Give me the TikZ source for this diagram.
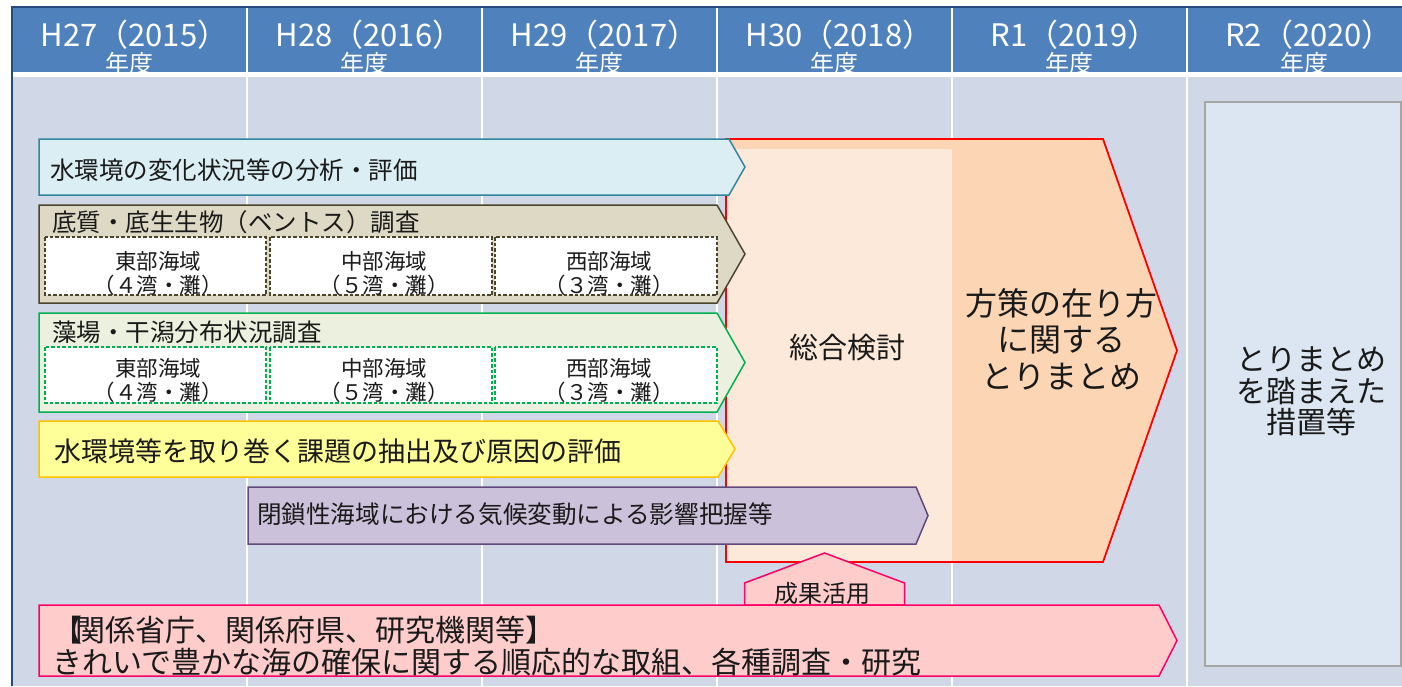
\documentclass[tikz,border=0pt]{standalone}
\usepackage{fontspec}
\setmainfont{Noto Sans CJK JP}
\definecolor{hdrblue}{HTML}{4F81BD}
\definecolor{framedark}{HTML}{254A7E}
\definecolor{bodybg}{HTML}{D0D8E8}
\definecolor{abluefill}{HTML}{DAEEF3}
\definecolor{abluedraw}{HTML}{31859C}
\definecolor{begfill}{HTML}{DDD9C4}
\definecolor{begdraw}{HTML}{4A452A}
\definecolor{grnfill}{HTML}{EBF1DE}
\definecolor{grndraw}{HTML}{00B050}
\definecolor{yelfill}{HTML}{FFFF99}
\definecolor{yeldraw}{HTML}{FFC000}
\definecolor{purfill}{HTML}{CCC1DA}
\definecolor{purdraw}{HTML}{604A7B}
\definecolor{pinkfill}{HTML}{FFCCCC}
\definecolor{pinkdraw}{HTML}{FF0066}
\definecolor{peach}{HTML}{FCD5B5}
\definecolor{peachlight}{HTML}{FDE9D9}
\definecolor{rbox}{HTML}{DCE6F2}
\definecolor{rboxdraw}{HTML}{A6A6A6}
\definecolor{ink}{HTML}{1A1A1A}
\newcommand\fsz[2]{\fontsize{#1pt}{#2pt}\selectfont}
\begin{document}
\begin{tikzpicture}[x=1pt,y=-1pt,
  lbl/.style={inner sep=0pt,outer sep=0pt,text=ink},
  hdrtxt/.style={inner sep=0pt,outer sep=0pt,text=white,anchor=base},
  arrowbox/.style={line width=1.5pt,line join=miter},
  subbox/.style={fill=white,line width=1.5pt,dash pattern=on 3.5pt off 2pt},
  colline/.style={draw=white,line width=2.2pt}]
\useasboundingbox (0,0) rectangle (1402,686);
\fill[white] (0,0) rectangle (1402,686);
% body and header
\fill[bodybg] (13,77) rectangle (1402,686);
\fill[hdrblue] (13,8) rectangle (1402,72);
% header texts
\foreach \cx/\lab [count=\i] in {129.5/H27（2015）,364.5/H28（2016）,599.5/H29（2017）,834.5/H30（2018）,1069.5/R1（2019）,1304/R2（2020）}{
  \node[hdrtxt,font=\fsz{31}{33}] (hy\i) at (\cx+5,46) {\lab};
  \node[hdrtxt,font=\fsz{24}{26}] (hn\i) at (\cx,72) {年度};
}
\fill[white] (13,72) rectangle (1402,77);
% column lines
\foreach \x in {247,482,717,952,1187}{\draw[colline] (\x,8) -- (\x,686);}
% frame
\draw[framedark,line width=2pt] (12,686) -- (12,7) -- (1402,7);
% right box
\draw[rboxdraw,fill=rbox,line width=1.5pt] (1205,102) rectangle (1401,666);
% big red pentagon
\fill[peach] (726,139) -- (1103,139) -- (1177,350.5) -- (1103,562) -- (726,562) -- cycle;
\fill[peachlight] (727,149) rectangle (952,561);
\draw[red,line width=1.8pt,line join=miter] (726,139) -- (1103,139) -- (1177,350.5) -- (1103,562) -- (726,562) -- cycle;
% arrow 1
\draw[arrowbox,draw=abluedraw,fill=abluefill] (39,139) -- (729,139) -- (745,167) -- (729,195) -- (39,195) -- cycle;
% arrow 2
\draw[arrowbox,draw=begdraw,fill=begfill] (39,205) -- (717,205) -- (745,254) -- (717,303) -- (39,303) -- cycle;
\draw[subbox,draw=begdraw] (45,237) rectangle (266,295);
\draw[subbox,draw=begdraw] (270,237) rectangle (492,295);
\draw[subbox,draw=begdraw] (495,237) rectangle (717,295);
% arrow 3
\draw[arrowbox,draw=grndraw,fill=grnfill] (39,313) -- (717,313) -- (745,362.5) -- (717,412) -- (39,412) -- cycle;
\draw[subbox,draw=grndraw] (45,347) rectangle (266,403);
\draw[subbox,draw=grndraw] (270,347) rectangle (492,403);
\draw[subbox,draw=grndraw] (495,347) rectangle (717,403);
% arrow 4
\draw[arrowbox,draw=yeldraw,fill=yelfill] (39,421) -- (718,421) -- (735,449) -- (718,477) -- (39,477) -- cycle;
% arrow 5
\draw[arrowbox,draw=purdraw,fill=purfill] (248,487) -- (916,487) -- (928,515.5) -- (916,544) -- (248,544) -- cycle;
% seika katsuyo pentagon
\draw[arrowbox,draw=pinkdraw,fill=pinkfill] (744.5,605) -- (744.5,583) -- (824.5,553) -- (904.5,583) -- (904.5,605) -- cycle;
% pink bottom arrow
\draw[arrowbox,draw=pinkdraw,fill=pinkfill] (39,605) -- (1159,605) -- (1177,640.5) -- (1159,676) -- (39,676) -- cycle;
% texts
\node[lbl,anchor=base west,font=\fsz{24.5}{26}] (t1) at (50,179.3) {水環境の変化状況等の分析・評価};
\node[lbl,anchor=base west,font=\fsz{24.5}{26}] (t2) at (52,231.3) {底質・底生生物（ベントス）調査};
\foreach \cx/\a/\b [count=\i] in {158/東部海域/（４湾・灘）,384/中部海域/（５湾・灘）,609/西部海域/（３湾・灘）}{
  \node[lbl,anchor=base,font=\fsz{21.5}{24}] (bA\i) at (\cx,269.2) {\a};
  \node[lbl,anchor=base,font=\fsz{21.5}{24}] (bB\i) at (\cx,293.7) {\b};
  \node[lbl,anchor=base,font=\fsz{21.5}{24}] (gA\i) at (\cx,376.2) {\a};
  \node[lbl,anchor=base,font=\fsz{21.5}{24}] (gB\i) at (\cx,400.2) {\b};
}
\node[lbl,anchor=base west,font=\fsz{24.5}{26}] (t3) at (52,341.8) {藻場・干潟分布状況調査};
\node[lbl,anchor=base west,font=\fsz{27}{29}] (t4) at (54,461.8) {水環境等を取り巻く課題の抽出及び原因の評価};
\node[lbl,anchor=base west,font=\fsz{24.6}{26}] (t5) at (257,523.5) {閉鎖性海域における気候変動による影響把握等};
\node[lbl,anchor=base,font=\fsz{29}{31}] (sogo) at (847,358.5) {総合検討};
\node[lbl,anchor=base,font=\fsz{32}{34}] (hs1) at (1061,315.5) {方策の在り方};
\node[lbl,anchor=base,font=\fsz{32}{34}] (hs2) at (1061,351.2) {に関する};
\node[lbl,anchor=base,font=\fsz{32}{34}] (hs3) at (1061,388) {とりまとめ};
\node[lbl,anchor=base,font=\fsz{30}{32}] (tm1) at (1311,370.4) {とりまとめ};
\node[lbl,anchor=base,font=\fsz{30}{32}] (tm2) at (1311,402.1) {を踏まえた};
\node[lbl,anchor=base,font=\fsz{30}{32}] (tm3) at (1311,433.9) {措置等};
\node[lbl,anchor=base,font=\fsz{24}{26}] (seika) at (822,602) {成果活用};
\node[lbl,anchor=base west,font=\fsz{30}{32}] (p1) at (52,641.4) {【\kern-7pt 関係省庁、関係府県、研究機関等】};
\node[lbl,anchor=base west,font=\fsz{30}{32}] (p2) at (52,673.9) {きれいで豊かな海の確保に関する順応的な取組、各種調査・研究};
\end{tikzpicture}
\end{document}
